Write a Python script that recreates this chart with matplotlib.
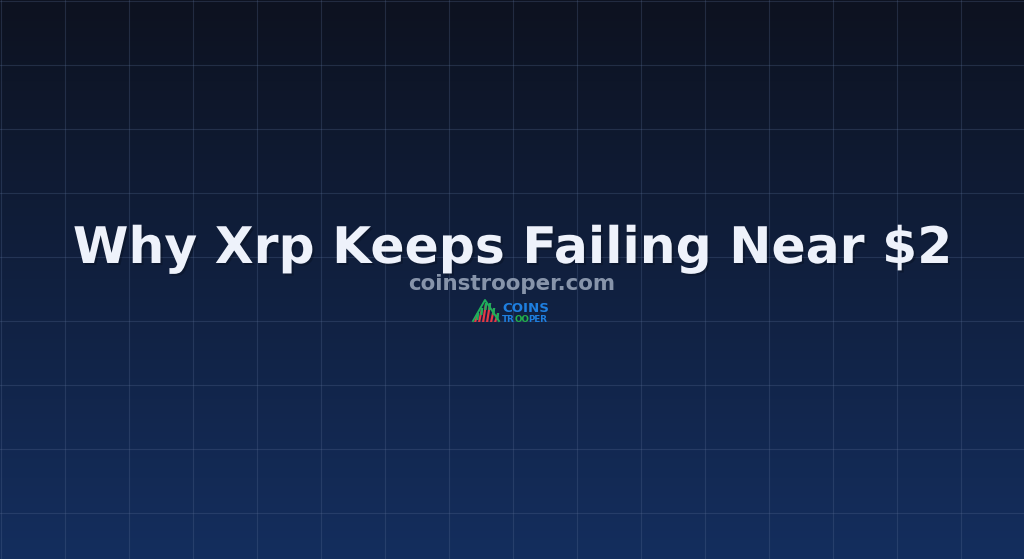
import numpy as np
import matplotlib
matplotlib.use("Agg")
import matplotlib.pyplot as plt
import matplotlib.patheffects as pe
from matplotlib.patches import Polygon

# title card text
title = "Why Xrp Keeps Failing Near $2"
site = "coinstrooper.com"
logo_top = "COINS"
logo_bottom = ["TR", "OO", "PER"]

# background: vertical gradient top -> bottom, grid every 64 px
top_color = np.array([0x0d, 0x12, 0x20]) / 255
bottom_color = np.array([0x14, 0x2e, 0x5e]) / 255
grid_step = 64

W, H = 1024, 559

fig = plt.figure(figsize=(10.24, 5.59), dpi=100)
ax = fig.add_axes([0, 0, 1, 1])
ax.set_xlim(0, W)
ax.set_ylim(H, 0)
ax.axis("off")

t = np.linspace(0, 1, 256)[:, None]
grad = top_color[None, :] * (1 - t) + bottom_color[None, :] * t
ax.imshow(grad[:, None, :].repeat(2, axis=1), extent=[0, W, H, 0], aspect="auto", zorder=0)

for x in range(0, W + 1, grid_step):
    ax.axvline(x + 0.5, color="#5a6f96", lw=0.8, alpha=0.28, zorder=1)
for y in range(0, H + 1, grid_step):
    ax.axhline(y + 0.5, color="#5a6f96", lw=0.8, alpha=0.28, zorder=1)

shadow = [pe.withSimplePatchShadow(offset=(1.5, -1.5), shadow_rgbFace="black", alpha=0.2)]
ax.text(512, 263, title, ha="center", va="baseline", fontsize=36.3,
        fontweight="bold", color="#eef2fb", family="DejaVu Sans",
        path_effects=shadow, zorder=3)
ax.text(512, 290, site, ha="center", va="baseline", fontsize=15.4,
        fontweight="bold", color="#8794aa", family="DejaVu Sans", zorder=3)

# small logo: slanted stripes, green rising edge, red falling part
stripes_x = [475, 479, 483, 487, 491, 495]
stripes_top = [313, 308, 303, 303, 308, 313]
for i, (sx, st) in enumerate(zip(stripes_x, stripes_top)):
    ax.add_patch(Polygon([(sx - 1, 322), (sx + 2, st), (sx + 4.2, st), (sx + 1.2, 322)],
                         closed=True, color="#e53945", lw=0, zorder=4))
    ax.add_patch(Polygon([(sx + 1.3, st + 7), (sx + 2, st), (sx + 4.2, st), (sx + 3.5, st + 7)],
                         closed=True, color="#1fae5b", lw=0, zorder=5))
ax.plot([473, 485, 499], [321, 300, 321], color="#1fae5b", lw=1.4, zorder=5)

ax.text(502, 312.5, logo_top, ha="left", va="baseline", fontsize=9.6,
        fontweight="bold", color="#1e7fe0", family="DejaVu Sans", zorder=4)
lx = 502
cols = ["#1e7fe0", "#22b04b", "#1e7fe0"]
widths = [13, 13.5, 0]
for part, c, w in zip(logo_bottom, cols, widths):
    ax.text(lx, 322, part, ha="left", va="baseline", fontsize=6.3,
            fontweight="bold", color=c, family="DejaVu Sans", zorder=4)
    lx += w

fig.savefig("out.png", dpi=100)
